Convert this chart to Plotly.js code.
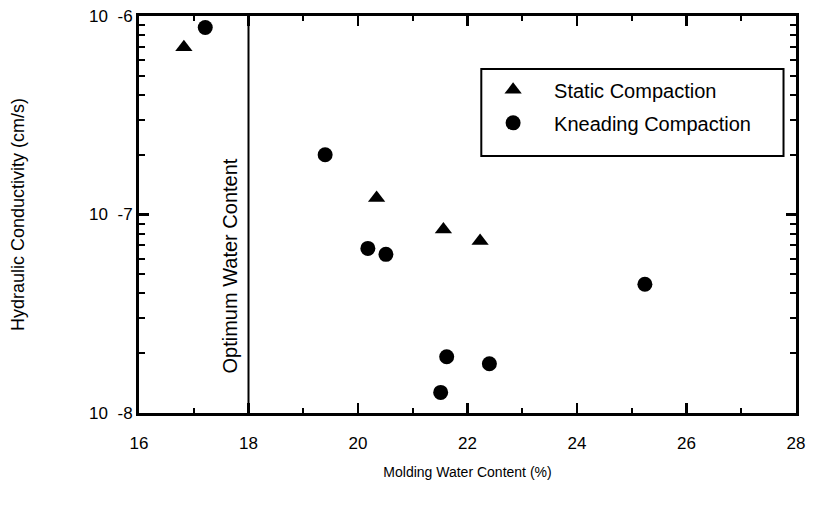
<!DOCTYPE html>
<html>
<head>
<meta charset="utf-8">
<script src="https://cdn.plot.ly/plotly-3.0.1.min.js"></script>
<style>html,body{margin:0;padding:0;background:#fff;}#chart{width:814px;height:511px;}</style>
</head>
<body>
<div id="chart"></div>
<script>
var staticX = [16.82, 20.34, 21.56, 22.23];
var staticK = [6.95e-7, 1.21e-7, 8.4e-8, 7.35e-8];
var kneadX = [17.21, 19.40, 20.18, 20.51, 21.62, 22.40, 21.51, 25.24];
var kneadK = [8.75e-7, 2.0e-7, 6.75e-8, 6.3e-8, 1.92e-8, 1.77e-8, 1.27e-8, 4.45e-8];
var optimumX = 18;
var xTicks = [16, 18, 20, 22, 24, 26, 28];
var yTickVals = [1e-8, 1e-7, 1e-6];
var yTickText = ['10  -8', '10  -7', '10  -6'];

var minorY = [];
[1e-8, 1e-7].forEach(function (d) { for (var m = 2; m <= 9; m++) minorY.push(m * d); });

var font = 'Liberation Sans, Arial, Helvetica, sans-serif';

var traces = [
  {x: staticX, y: staticK, mode: 'markers', type: 'scatter', name: 'Static Compaction',
   legendgroup: 'a',
   marker: {symbol: 'triangle-up', size: 15, color: '#000'}},
  {x: kneadX, y: kneadK, mode: 'markers', type: 'scatter', name: 'Kneading Compaction',
   legendgroup: 'b',
   marker: {symbol: 'circle', size: 15, color: '#000'}}
];

var xTickStyle = {ticks: 'inside', ticklen: 10, tickwidth: 2.5, tickcolor: '#000',
  minor: {dtick: 1, ticks: 'inside', ticklen: 5, tickwidth: 2, tickcolor: '#000', showgrid: false}};
var yTickStyle = {ticks: 'inside', ticklen: 10, tickwidth: 2.5, tickcolor: '#000',
  minor: {tickvals: minorY, ticks: 'inside', ticklen: 6, tickwidth: 2, tickcolor: '#000', showgrid: false}};

var yDom = [18 / 415, 1];

var layout = {
  width: 814, height: 511,
  margin: {l: 139, r: 18, t: 16, b: 80},
  paper_bgcolor: '#fff', plot_bgcolor: '#fff',
  font: {family: font, color: '#000', size: 17},
  showlegend: true,
  legend: {x: 0.507, y: 0.869, xanchor: 'left', yanchor: 'top', bgcolor: 'rgba(0,0,0,0)',
           borderwidth: 0, font: {family: font, size: 20}, itemwidth: 72,
           traceorder: 'grouped', tracegroupgap: 4},
  xaxis: Object.assign({range: [16, 28], tickvals: xTicks, showticklabels: false,
          showline: true, linewidth: 3, linecolor: '#000', mirror: 'ticks',
          showgrid: false, zeroline: false}, xTickStyle),
  xaxis2: Object.assign({range: [16, 28], tickvals: xTicks, overlaying: 'x', side: 'top', anchor: 'y',
          showticklabels: false, showline: true, linewidth: 3, linecolor: '#000', mirror: 'ticks',
          showgrid: false, zeroline: false}, xTickStyle),
  xaxis3: {range: [16, 28], tickvals: xTicks, ticktext: xTicks.map(String), overlaying: 'x',
          anchor: 'free', position: 0, side: 'bottom', ticks: '', showline: false,
          showgrid: false, zeroline: false, tickfont: {size: 17},
          title: {text: 'Molding Water Content (%)', font: {size: 14}, standoff: 15}},
  yaxis: Object.assign({type: 'log', range: [-8, -6], domain: yDom, tickvals: yTickVals, ticktext: yTickText,
          showline: true, linewidth: 3, linecolor: '#000', mirror: 'ticks',
          showgrid: false, zeroline: false, tickfont: {size: 17},
          title: {text: 'Hydraulic Conductivity (cm/s)', font: {size: 18}, standoff: 60}}, yTickStyle),
  yaxis2: Object.assign({type: 'log', range: [-8, -6], tickvals: yTickVals, overlaying: 'y', side: 'right', anchor: 'x',
          showticklabels: false, showline: true, linewidth: 3, linecolor: '#000', mirror: 'ticks',
          showgrid: false, zeroline: false}, yTickStyle),
  shapes: [
    {type: 'line', xref: 'x', yref: 'y', x0: optimumX, x1: optimumX, y0: yTickVals[0], y1: yTickVals[2],
     line: {color: '#000', width: 2}},
    {type: 'rect', xref: 'paper', yref: 'paper', x0: 0.521, x1: 0.981, y0: 0.6627, y1: 0.8723,
     line: {color: '#000', width: 2}, fillcolor: 'rgba(0,0,0,0)'}
  ],
  annotations: [
    {text: 'Optimum Water Content', xref: 'x', yref: 'paper', x: optimumX, y: 0.3976,
     xanchor: 'right', xshift: -6, yanchor: 'middle', textangle: -90, showarrow: false,
     font: {size: 20}}
  ]
};

// invisible helper traces so the overlaying axes are drawn
traces.push({x: [xTicks[0]], y: [yTickVals[1]], xaxis: 'x2', yaxis: 'y2', mode: 'markers',
             marker: {opacity: 0}, showlegend: false, hoverinfo: 'skip'});
traces.push({x: [xTicks[0]], y: [yTickVals[1]], xaxis: 'x3', yaxis: 'y', mode: 'markers',
             marker: {opacity: 0}, showlegend: false, hoverinfo: 'skip'});

Plotly.newPlot('chart', traces, layout, {displayModeBar: false, staticPlot: true});
</script>
</body>
</html>
